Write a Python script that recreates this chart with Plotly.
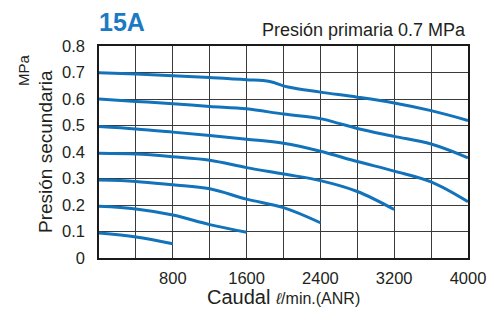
import plotly.graph_objects as go

# Data (flow in l/min ANR, secondary pressure in MPa)
flow_07 = [0, 400, 800, 1200, 1600, 1850, 2050, 2400, 2800, 3200, 3600, 4000]
p_07 = [0.699, 0.694, 0.688, 0.681, 0.673, 0.666, 0.645, 0.626, 0.607, 0.585, 0.556, 0.519]

flow_06 = [0, 400, 800, 1200, 1600, 2000, 2400, 2600, 2800, 3200, 3600, 4000]
p_06 = [0.600, 0.591, 0.582, 0.572, 0.563, 0.543, 0.526, 0.508, 0.489, 0.459, 0.430, 0.378]

flow_05 = [0, 400, 800, 1200, 1600, 2000, 2400, 2800, 3200, 3600, 4000]
p_05 = [0.496, 0.487, 0.475, 0.462, 0.448, 0.433, 0.403, 0.364, 0.328, 0.287, 0.212]

flow_04 = [0, 400, 800, 1200, 1600, 2000, 2400, 2800, 3200]
p_04 = [0.395, 0.392, 0.382, 0.369, 0.341, 0.317, 0.292, 0.251, 0.183]

flow_03 = [0, 400, 800, 1200, 1600, 2000, 2400]
p_03 = [0.294, 0.289, 0.276, 0.261, 0.222, 0.190, 0.133]

flow_02 = [0, 400, 800, 1200, 1600]
p_02 = [0.195, 0.185, 0.162, 0.126, 0.097]

flow_01 = [0, 400, 800]
p_01 = [0.094, 0.079, 0.054]

series = [(flow_07, p_07), (flow_06, p_06), (flow_05, p_05), (flow_04, p_04),
          (flow_03, p_03), (flow_02, p_02), (flow_01, p_01)]

x_ticks = list(range(0, 4001, 400))
x_labels = [str(v) if (v % 800 == 0 and v > 0) else "" for v in x_ticks]
y_ticks = [0, 0.1, 0.2, 0.3, 0.4, 0.5, 0.6, 0.7, 0.8]
y_labels = ["0", "0.1", "0.2", "0.3", "0.4", "0.5", "0.6", "0.7", "0.8"]

LINE = "#1273bb"
TXT = "#231f20"
FONT = "Liberation Sans, Arial, sans-serif"

fig = go.Figure()
for fx, fy in series:
    fig.add_trace(go.Scatter(x=fx, y=fy, mode="lines",
                             line=dict(color=LINE, width=3, shape="spline", smoothing=1.0),
                             hoverinfo="skip", showlegend=False))

fig.update_layout(
    width=488, height=309, autosize=False,
    margin=dict(l=99, r=20, t=46, b=51),
    paper_bgcolor="white", plot_bgcolor="white",
    font=dict(family=FONT, color=TXT),
    xaxis=dict(range=[0, 4000], tickvals=x_ticks, ticktext=x_labels,
               showgrid=True, gridcolor="#3a3a3a", gridwidth=1,
               showline=True, linecolor="#1a1a1a", linewidth=1.5, mirror=True,
               ticks="", tickfont=dict(size=16.5, color=TXT), zeroline=False,
               ticklabelstandoff=4, automargin=False, ticklabeloverflow="allow"),
    yaxis=dict(range=[0, 0.8], tickvals=y_ticks, ticktext=y_labels,
               showgrid=True, gridcolor="#3a3a3a", gridwidth=1,
               showline=True, linecolor="#1a1a1a", linewidth=1.5, mirror=True,
               ticks="", tickfont=dict(size=16.5, color=TXT), zeroline=False,
               ticklabelstandoff=9, automargin=False, ticklabeloverflow="allow"),
    annotations=[
        dict(text="<b>15A</b>", xref="paper", yref="paper", x=-0.005, y=1.0,
             xanchor="left", yanchor="bottom", yshift=8, showarrow=False,
             font=dict(size=25, color="#1a7ac4", family=FONT)),
        dict(text="Presión primaria 0.7 MPa", xref="paper", yref="paper", x=1.0, y=1.0,
             xanchor="right", yanchor="bottom", yshift=4, showarrow=False,
             font=dict(size=18, color=TXT, family=FONT)),
        dict(text="MPa", xref="paper", yref="paper", x=0, y=1.0, xanchor="center",
             yanchor="middle", xshift=-76, yshift=-24, textangle=-90, showarrow=False,
             font=dict(size=15, color=TXT, family=FONT)),
        dict(text="Presión secundaria", xref="paper", yref="paper", x=0, y=0.5,
             xanchor="center", yanchor="middle", xshift=-54, yshift=0, textangle=-90,
             showarrow=False, font=dict(size=19, color=TXT, family=FONT)),
        dict(text="Caudal <span style='font-size:16px'><i>ℓ</i>/min.(ANR)</span>",
             xref="paper", yref="paper", x=0.5, y=0, xanchor="center", yanchor="top",
             yshift=-26, showarrow=False, font=dict(size=20, color=TXT, family=FONT)),
    ],
)

fig.write_html(
    "out.html",
    config={"displayModeBar": False, "responsive": False},
    post_script=(
        "document.documentElement.style.margin='0';"
        "document.body.style.margin='0';document.body.style.overflow='hidden';"
        "Plotly.relayout('{plot_id}', {width: 488, height: 309});"
    ),
)
